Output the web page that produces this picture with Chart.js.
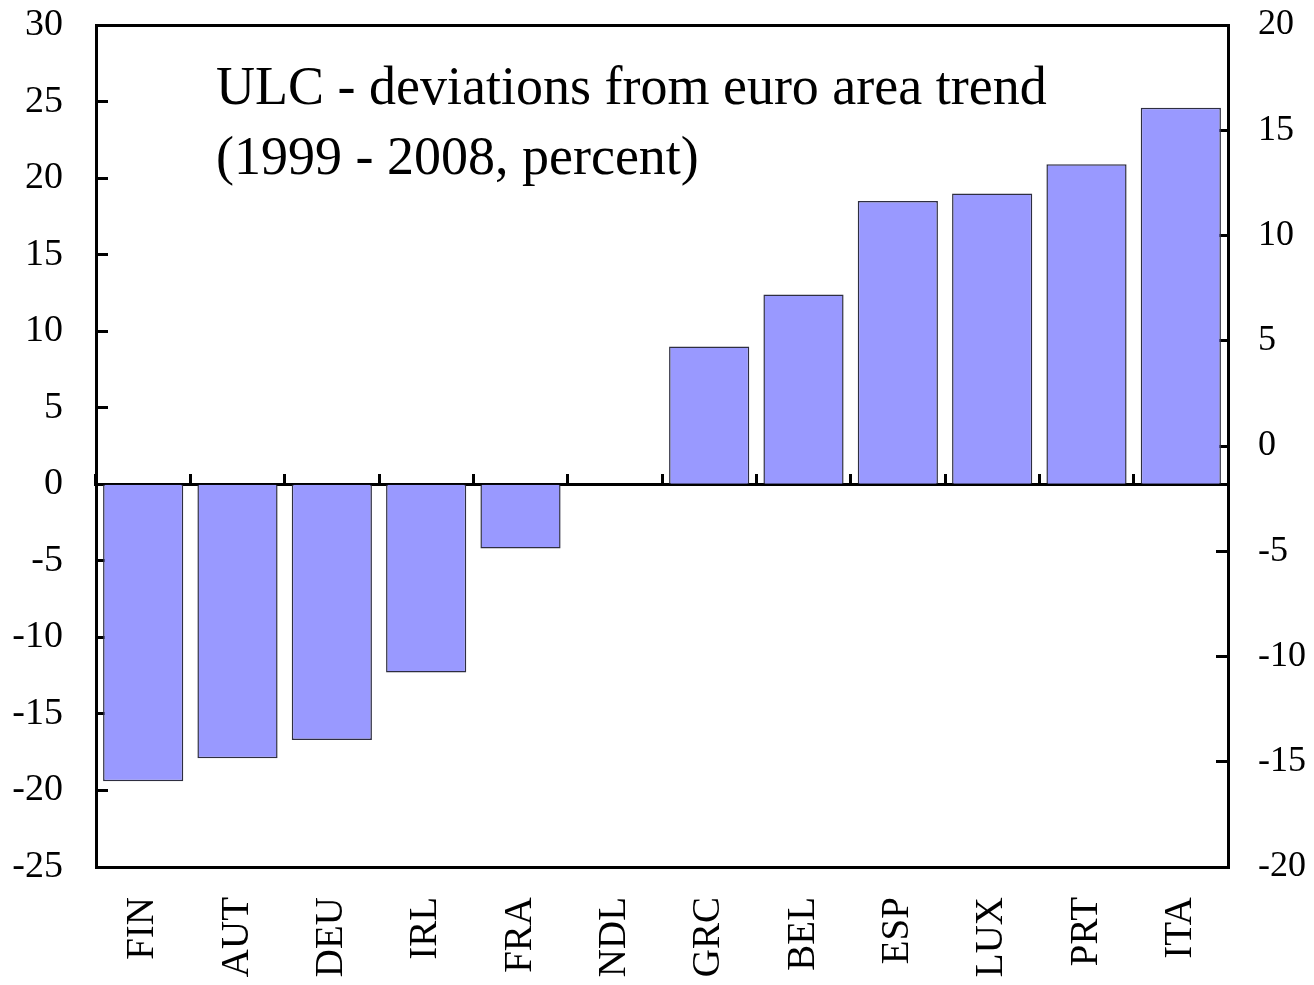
<!DOCTYPE html>
<html>
<head>
<meta charset="utf-8">
<script src="https://cdn.jsdelivr.net/npm/chart.js@4.4.1/dist/chart.umd.min.js"></script>
<style>
html,body{margin:0;padding:0;background:#ffffff;overflow:hidden;}
#wrap{width:1314px;height:985px;position:relative;}
</style>
</head>
<body>
<div id="wrap"><canvas id="c" width="1314" height="985"></canvas></div>
<script>
// ---- data ----
const categories = ['FIN', 'AUT', 'DEU', 'IRL', 'FRA', 'NDL', 'GRC', 'BEL', 'ESP', 'LUX', 'PRT', 'ITA'];
const ulcDeviation = [-19.4, -17.9, -16.7, -12.3, -4.2, 0, 9.0, 12.4, 18.5, 19.0, 20.9, 24.6];
const leftAxisRange = [-25, 30];
const rightAxisRange = [-20, 20];
const tickStep = 5;
const titleLines = ['ULC - deviations from euro area trend', '(1999 - 2008, percent)'];

// ---- styling ----
const FONT = '"Liberation Serif", "Times New Roman", serif';
const BLACK = '#000000';

const titlePlugin = {
  id: 'innerTitle',
  afterDraw(chart) {
    const ctx = chart.ctx;
    const a = chart.chartArea;
    ctx.save();
    ctx.font = '54px ' + FONT;
    ctx.fillStyle = BLACK;
    ctx.textAlign = 'left';
    ctx.textBaseline = 'alphabetic';
    ctx.fillText(titleLines[0], a.left + 120, a.top + 79);
    ctx.fillText(titleLines[1], a.left + 120, a.top + 149);
    ctx.restore();
  }
};

function fixVertical(width) {
  return function (s) {
    s.width = width;
    s.paddingTop = 10;
    s.paddingBottom = 10;
  };
}

new Chart(document.getElementById('c'), {
  type: 'bar',
  data: {
    labels: categories,
    datasets: [{
      data: ulcDeviation,
      backgroundColor: '#9999FF',
      borderColor: '#2e2e40',
      borderWidth: 1.5,
      barPercentage: 0.85,
      categoryPercentage: 1.0,
      xAxisID: 'x',
      yAxisID: 'y'
    }]
  },
  options: {
    responsive: false,
    animation: false,
    events: [],
    layout: {padding: {top: 25, left: 0, right: 0, bottom: 0}},
    plugins: {legend: {display: false}, tooltip: {enabled: false}, title: {display: false}},
    scales: {
      x: {
        type: 'category',
        position: 'bottom',
        offset: true,
        grid: {display: false, drawTicks: false, drawOnChartArea: false},
        border: {display: true, color: BLACK, width: 3},
        ticks: {
          color: BLACK,
          font: {family: FONT, size: 39},
          minRotation: 90,
          maxRotation: 90,
          autoSkip: false,
          padding: 30
        },
        afterFit(s) { s.height = 118; s.paddingLeft = 0; s.paddingRight = 0; }
      },
      xZero: {
        type: 'category',
        position: {y: 0},
        offset: true,
        grid: {offset: true, display: true, drawOnChartArea: false, drawTicks: true, tickLength: -12, tickWidth: 3, tickColor: BLACK},
        border: {display: true, color: BLACK, width: 3},
        ticks: {display: false},
        z: 1
      },
      xTop: {
        type: 'category',
        position: 'top',
        grid: {display: false, drawTicks: false, drawOnChartArea: false},
        border: {display: true, color: BLACK, width: 3},
        ticks: {display: false},
        afterFit(s) { s.height = 0; }
      },
      y: {
        position: 'left',
        min: leftAxisRange[0],
        max: leftAxisRange[1],
        ticks: {stepSize: tickStep, color: BLACK, font: {family: FONT, size: 38}, padding: 45},
        grid: {drawOnChartArea: false, drawTicks: true, tickLength: -12, tickWidth: 3, tickColor: BLACK},
        border: {display: true, color: BLACK, width: 3},
        afterFit: fixVertical(96)
      },
      y2: {
        position: 'right',
        min: rightAxisRange[0],
        max: rightAxisRange[1],
        ticks: {stepSize: tickStep, color: BLACK, font: {family: FONT, size: 36}, padding: 42},
        grid: {drawOnChartArea: false, drawTicks: true, tickLength: -12, tickWidth: 3, tickColor: BLACK},
        border: {display: true, color: BLACK, width: 3},
        afterFit: fixVertical(86)
      }
    }
  },
  plugins: [titlePlugin]
});
</script>
</body>
</html>
